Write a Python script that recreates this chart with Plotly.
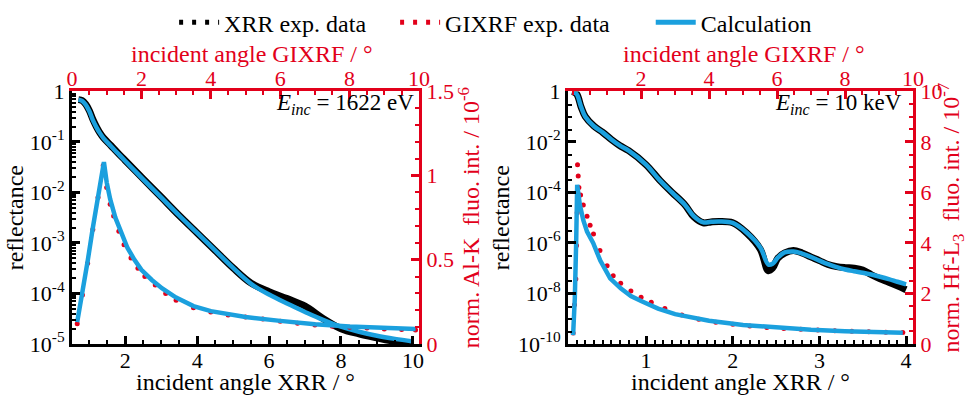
import plotly.graph_objects as go

# ---------------- data: left panel (E_inc = 1622 eV) ----------------
xrr_theta_L = [0.7, 0.8, 0.9, 1.0, 1.1, 1.2, 1.3, 1.4, 1.6, 1.8, 2.0, 2.5, 3.0, 3.5, 4.0, 4.5,
               5.0, 5.5, 6.0, 6.5, 7.0, 7.5, 8.0, 8.5, 9.0, 9.5, 10.0]
xrr_exp_L = [0.69, 0.66, 0.56, 0.42, 0.28, 0.20, 0.15, 0.12, 0.085, 0.060, 0.043, 0.0186,
             0.0081, 0.0035, 0.00158, 0.00071, 0.00032, 0.000160, 0.000108, 7.9e-05, 5.6e-05,
             3.2e-05, 2.0e-05, 1.58e-05, 1.32e-05, 1.12e-05, 1.0e-05]
xrr_calc_L = [0.69, 0.65, 0.55, 0.41, 0.27, 0.195, 0.148, 0.118, 0.083, 0.059, 0.042, 0.0182,
              0.0080, 0.0035, 0.00158, 0.00071, 0.00032, 0.000155, 9.5e-05, 6.3e-05, 4.3e-05,
              3.0e-05, 2.2e-05, 1.74e-05, 1.45e-05, 1.26e-05, 1.12e-05]

gix_angle_L = [0.15, 0.3, 0.45, 0.6, 0.75, 0.9, 1.0, 1.1, 1.2, 1.35, 1.5, 1.7, 1.9, 2.1, 2.4,
               2.7, 3.0, 3.5, 4.0, 4.5, 5.0, 5.5, 6.0, 6.5, 7.0, 7.5, 8.0, 8.5, 9.0, 9.5, 9.9]
gix_exp_L = [0.12, 0.29, 0.48, 0.68, 0.87, 1.06, 0.93, 0.83, 0.76, 0.67, 0.59, 0.51, 0.45,
             0.40, 0.35, 0.30, 0.26, 0.215, 0.19, 0.172, 0.16, 0.148, 0.135, 0.123, 0.113,
             0.105, 0.099, 0.094, 0.089, 0.085, 0.083]
gix_calc_angle_L = [0.15, 0.3, 0.45, 0.6, 0.75, 0.92, 1.0, 1.1, 1.25, 1.4, 1.6, 1.8, 2.0, 2.3,
                    2.6, 3.0, 3.5, 4.0, 5.0, 6.0, 7.0, 8.0, 9.0, 9.9]
gix_calc_L = [0.13, 0.30, 0.49, 0.69, 0.88, 1.08, 0.96, 0.86, 0.75, 0.67, 0.57, 0.50, 0.44,
              0.38, 0.33, 0.275, 0.225, 0.195, 0.16, 0.137, 0.117, 0.104, 0.094, 0.088]

# ---------------- data: right panel (E_inc = 10 keV) ----------------
xrr_theta_R = [0.15, 0.2, 0.25, 0.3, 0.4, 0.5, 0.6, 0.7, 0.8, 1.0, 1.16, 1.3, 1.45, 1.55, 1.66,
               1.75, 1.85, 2.0, 2.16, 2.32, 2.41, 2.46, 2.52, 2.6, 2.7, 2.8, 2.9, 3.0, 3.1, 3.2,
               3.3, 3.4, 3.5, 3.6, 3.7, 3.8, 3.9, 4.0]
xrr_exp_R = [1.0, 0.8, 0.25, 0.1, 0.042, 0.024, 0.0126, 0.0071, 0.0045, 0.00126, 0.0003,
             0.0001, 3.2e-05, 1.1e-05, 6.3e-06, 6.8e-06, 7.1e-06, 6.3e-06, 2.5e-06, 5.5e-07,
             8.0e-08, 1.0e-07, 2.5e-07, 4.0e-07, 5.0e-07, 4.0e-07, 2.8e-07, 2.0e-07, 1.4e-07,
             1.15e-07, 1.05e-07, 1.0e-07, 8.5e-08, 5.5e-08, 3.8e-08, 2.8e-08, 2.0e-08, 1.4e-08]
xrr_calc_R = [1.0, 0.78, 0.25, 0.1, 0.042, 0.024, 0.0126, 0.0071, 0.0045, 0.00126, 0.0003,
              0.0001, 3.2e-05, 1.15e-05, 6.5e-06, 6.9e-06, 7.1e-06, 6.2e-06, 2.6e-06, 6.5e-07,
              1.4e-07, 1.5e-07, 2.6e-07, 4.2e-07, 4.6e-07, 3.8e-07, 2.8e-07, 2.0e-07, 1.45e-07,
              1.1e-07, 8.9e-08, 7.6e-08, 6.6e-08, 5.6e-08, 4.6e-08, 3.7e-08, 2.9e-08, 2.3e-08]

gix_angle_R = [0.0, 0.04, 0.08, 0.1, 0.12, 0.13, 0.15, 0.17, 0.22, 0.3, 0.41, 0.5, 0.6, 0.79,
               1.0, 1.18, 1.4, 1.7, 2.0, 2.3, 2.7, 3.2, 3.7, 4.2, 4.7, 5.2, 5.7, 6.2, 6.7, 7.2,
               7.7, 8.2, 8.7, 9.2, 9.7]
gix_exp_R = [0.43, 1.55, 2.57, 3.9, 5.2, 7.1, 6.65, 6.2, 5.9, 5.5, 5.06, 4.7, 4.35, 3.7, 3.1,
             2.7, 2.4, 2.1, 1.85, 1.65, 1.4, 1.15, 0.98, 0.86, 0.78, 0.71, 0.65, 0.61, 0.58,
             0.55, 0.52, 0.5, 0.48, 0.46, 0.45]
gix_calc_angle_R = [0.0, 0.05, 0.09, 0.12, 0.2, 0.3, 0.41, 0.59, 0.8, 1.09, 1.4, 1.7, 2.0, 2.5,
                    3.0, 3.5, 4.0, 5.0, 6.0, 7.0, 8.0, 9.0, 9.7]
gix_calc_R = [0.35, 1.8, 4.0, 6.3, 5.5, 4.9, 4.45, 4.0, 3.3, 2.6, 2.2, 1.9, 1.7, 1.4, 1.18,
              1.03, 0.92, 0.75, 0.64, 0.56, 0.5, 0.46, 0.44]

# tick labels
ylog_vals_L = [1e-5, 1e-4, 1e-3, 1e-2, 1e-1, 1]
ylog_text_L = ["10<sup>-5</sup>", "10<sup>-4</sup>", "10<sup>-3</sup>", "10<sup>-2</sup>",
               "10<sup>-1</sup>", "1"]
ylog_vals_R = [1e-10, 1e-8, 1e-6, 1e-4, 1e-2, 1]
ylog_text_R = ["10<sup>-10</sup>", "10<sup>-8</sup>", "10<sup>-6</sup>", "10<sup>-4</sup>",
               "10<sup>-2</sup>", "1"]

# ---------------- styles ----------------
BLACK = "#000000"
RED = "#E2001A"
BLUE = "#1BA0DE"
FONT = "Liberation Serif, Times New Roman, Times, serif"
FT = 22   # tick labels
FA = 24   # axis titles / legend
NB = "\u00a0"

fig = go.Figure()

# left panel
fig.add_trace(go.Scatter(x=xrr_theta_L, y=xrr_exp_L, xaxis="x", yaxis="y", mode="lines",
                         line=dict(color=BLACK, width=7, shape="spline"), showlegend=False))
fig.add_trace(go.Scatter(x=gix_angle_L, y=gix_exp_L, xaxis="x2", yaxis="y2", mode="markers",
                         marker=dict(color=RED, size=5), showlegend=False))
fig.add_trace(go.Scatter(x=xrr_theta_L, y=xrr_calc_L, xaxis="x", yaxis="y", mode="lines",
                         line=dict(color=BLUE, width=4.5, shape="spline"), showlegend=False))
fig.add_trace(go.Scatter(x=gix_calc_angle_L, y=gix_calc_L, xaxis="x2", yaxis="y2", mode="lines",
                         line=dict(color=BLUE, width=4.5), showlegend=False))

# right panel
fig.add_trace(go.Scatter(x=xrr_theta_R, y=xrr_exp_R, xaxis="x3", yaxis="y3", mode="lines",
                         line=dict(color=BLACK, width=7, shape="spline"), showlegend=False))
fig.add_trace(go.Scatter(x=gix_angle_R, y=gix_exp_R, xaxis="x4", yaxis="y4", mode="markers",
                         marker=dict(color=RED, size=5), showlegend=False))
fig.add_trace(go.Scatter(x=xrr_theta_R, y=xrr_calc_R, xaxis="x3", yaxis="y3", mode="lines",
                         line=dict(color=BLUE, width=4.5, shape="spline"), showlegend=False))
fig.add_trace(go.Scatter(x=gix_calc_angle_R, y=gix_calc_R, xaxis="x4", yaxis="y4", mode="lines",
                         line=dict(color=BLUE, width=4.5), showlegend=False))

# legend entries
fig.add_trace(go.Scatter(x=[None], y=[None], mode="lines", name="XRR exp. data" + NB * 4,
                         line=dict(color=BLACK, width=5, dash="4px,9px")))
fig.add_trace(go.Scatter(x=[None], y=[None], mode="lines", name="GIXRF exp. data" + NB * 6,
                         line=dict(color=RED, width=5, dash="4px,9px")))
fig.add_trace(go.Scatter(x=[None], y=[None], mode="lines", name="Calculation",
                         line=dict(color=BLUE, width=5)))

W, H = 968, 395
dL = [72 / W, 419 / W]
dR = [568 / W, 913 / W]
dY = [(H - 343) / H, (H - 86) / H]


def lin_axis(color, **kw):
    d = dict(showline=True, linecolor=color, linewidth=3, ticks="inside", ticklen=8,
             tickwidth=3, tickcolor=color, showgrid=False, zeroline=False,
             tickfont=dict(family=FONT, size=FT, color=color),
             title_font=dict(family=FONT, size=FA, color=color), automargin=False)
    d.update(kw)
    return d


def minor_log(vals, color):
    return dict(ticks="inside", ticklen=4, tickwidth=2, tickcolor=color, tickvals=vals,
                showgrid=False)


minor_L = [m * 10 ** e for e in range(-5, 0) for m in range(2, 10)]
minor_R = [10.0 ** e for e in range(-9, 0, 2)] + [3 * 10.0 ** e for e in range(-10, 0)]


def paper_text(text, px, py, color, size, xanchor="center"):
    return dict(text=text, xref="paper", yref="paper", x=px / W, y=(H - py) / H,
                xanchor=xanchor, yanchor="middle", showarrow=False,
                font=dict(family=FONT, size=size, color=color))


fig.update_layout(
    width=W, height=H, margin=dict(l=0, r=0, t=0, b=0),
    paper_bgcolor="white", plot_bgcolor="white",
    font=dict(family=FONT, size=FT, color=BLACK),
    legend=dict(orientation="h", x=0.512, xanchor="center", y=(H - 16) / H, yanchor="middle",
                font=dict(family=FONT, size=FA), itemwidth=40, tracegroupgap=0,
                bgcolor="rgba(0,0,0,0)"),
    xaxis=lin_axis(BLACK, domain=dL, anchor="y", range=[0.52, 10.17], tickvals=[2, 4, 6, 8, 10],
                   ticklabelstandoff=-5,
                   title=dict(text="incident angle XRR / °", standoff=0),
                   minor=dict(ticks="inside", ticklen=4, tickwidth=2, tickcolor=BLACK, dtick=0.5)),
    yaxis=lin_axis(BLACK, domain=dY, anchor="x", type="log", range=[-5, 0],
                   tickvals=ylog_vals_L, ticktext=ylog_text_L,
                   title=dict(text="reflectance", standoff=0),
                   minor=minor_log(minor_L, BLACK)),
    xaxis2=lin_axis(RED, domain=dL, anchor="y2", overlaying="x", side="top", range=[0, 10],
                    tickvals=[0, 2, 4, 6, 8, 10], ticklabelstandoff=-6,
                    minor=dict(ticks="inside", ticklen=4, tickwidth=2, tickcolor=RED, dtick=0.5)),
    yaxis2=lin_axis(RED, domain=dY, anchor="x", overlaying="y", side="right", range=[0, 1.5],
                    tickvals=[0, 0.5, 1, 1.5], ticktext=["0", "0.5", "1", "1.5"],
                    title=dict(text="norm. Al-K  fluo. int. / 10<sup>-6</sup>", standoff=4),
                    minor=dict(ticks="inside", ticklen=4, tickwidth=2, tickcolor=RED, dtick=0.1)),
    xaxis3=lin_axis(BLACK, domain=dR, anchor="y3", range=[0.1, 4.08], tickvals=[1, 2, 3, 4],
                    ticklabelstandoff=-5,
                    title=dict(text="incident angle XRR / °", standoff=0),
                    minor=dict(ticks="inside", ticklen=4, tickwidth=2, tickcolor=BLACK, dtick=0.1)),
    yaxis3=lin_axis(BLACK, domain=dY, anchor="x3", type="log", range=[-10, 0],
                    tickvals=ylog_vals_R, ticktext=ylog_text_R,
                    title=dict(text="reflectance", standoff=2),
                    minor=minor_log(minor_R, BLACK)),
    xaxis4=lin_axis(RED, domain=dR, anchor="y4", overlaying="x3", side="top", range=[-0.15, 10],
                    tickvals=[2, 4, 6, 8, 10], ticklabelstandoff=-6,
                    minor=dict(ticks="inside", ticklen=4, tickwidth=2, tickcolor=RED, dtick=0.5)),
    yaxis4=lin_axis(RED, domain=dY, anchor="x3", overlaying="y3", side="right", range=[0, 10],
                    tickvals=[0, 2, 4, 6, 8, 10],
                    title=dict(text="norm. Hf-L<sub>3</sub>  fluo. int. / 10<sup>-7</sup>", standoff=4),
                    minor=dict(ticks="inside", ticklen=4, tickwidth=2, tickcolor=RED, dtick=0.5)),
    annotations=[
        paper_text("incident angle GIXRF / °", 252, 48, RED, FA),
        paper_text("incident angle GIXRF / °", 744, 48, RED, FA),
        paper_text("<i>E</i><sub><i>inc</i></sub> = 1622 eV", 416, 99, BLACK, 23, "right"),
        paper_text("<i>E</i><sub><i>inc</i></sub> = 10 keV", 838, 99, BLACK, 23),
    ],
)

fig.write_html("out.html", config={"displayModeBar": False},
               post_script="document.body.style.margin='0px';")
